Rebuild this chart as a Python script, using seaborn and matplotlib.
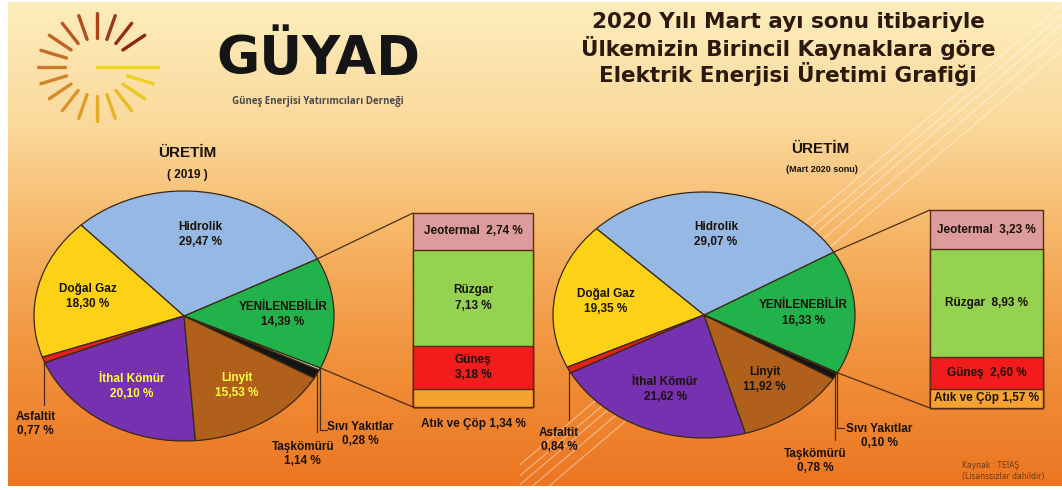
import numpy as np
import matplotlib
matplotlib.use("Agg")
import matplotlib.pyplot as plt
from matplotlib.colors import LinearSegmentedColormap
import seaborn as sns

# pie slices, counter-clockwise starting at the renewables wedge
sources = ["YENİLENEBİLİR", "Hidrolik", "Doğal Gaz", "Asfaltit",
           "İthal Kömür", "Linyit", "Taşkömürü", "Sıvı Yakıtlar"]
share_2019 = [14.39, 29.47, 18.30, 0.77, 20.10, 15.53, 1.14, 0.28]
share_2020 = [16.33, 29.07, 19.35, 0.84, 21.62, 11.92, 0.78, 0.10]

# break-down of the renewables wedge, top to bottom
renew_names = ["Jeotermal", "Rüzgar", "Güneş", "Atık ve Çöp"]
renew_2019 = [2.74, 7.13, 3.18, 1.34]
renew_2020 = [3.23, 8.93, 2.60, 1.57]

title_lines = ["2020 Yılı Mart ayı sonu itibariyle",
               "Ülkemizin Birincil Kaynaklara göre",
               "Elektrik Enerjisi Üretimi Grafiği"]

slice_colors = ["#22b24c", "#95b8e4", "#fcd116", "#e3201b",
                "#7631b0", "#b0601a", "#141414", "#cfe9cf"]
renew_colors = ["#dd9c9c", "#94d24f", "#f21c1c", "#f6a233"]

sns.set_theme(style="white")
plt.rcParams["font.family"] = ["DejaVu Sans"]
NARROW = ["Liberation Sans", "DejaVu Sans"]

W, H = 1062, 490
fig = plt.figure(figsize=(W / 100, H / 100), dpi=100)
fig.patch.set_facecolor("white")
bg = fig.add_axes([0, 0, 1, 1])
bg.set_xlim(0, W)
bg.set_ylim(H, 0)
bg.axis("off")

grad = LinearSegmentedColormap.from_list(
    "bg", ["#fdedbc", "#fbd99c", "#f6b363", "#f1903a", "#ec7622"])
bg.imshow(np.linspace(0, 1, 256)[:, None], cmap=grad, aspect="auto",
          extent=(8, W, 486, 3), origin="upper", zorder=0)
bg.set_xlim(0, W)
bg.set_ylim(H, 0)

# light streaks
for y0 in (4, 15, 24, 36, 50):
    bg.plot([W, 520], [y0, y0 + (W - 520) * 0.85], color="white", alpha=0.45, lw=0.8, zorder=1)

# logo
ray_cmap = LinearSegmentedColormap.from_list("rays", ["#8b2312", "#b4501f", "#cf7d2c", "#e3a626", "#efd11e"])
cx0, cy0 = 97, 67
angles = np.arange(36, 343, 18)
for k, a in enumerate(angles):
    t = np.deg2rad(a)
    bg.plot([cx0 + 32 * np.cos(t), cx0 + 59 * np.cos(t)],
            [cy0 - 29 * np.sin(t), cy0 - 54 * np.sin(t)],
            color=ray_cmap(k / (len(angles) - 1)), lw=2.4, solid_capstyle="round", zorder=2)
bg.plot([cx0, cx0 + 61], [cy0, cy0], color="#f0d818", lw=2.4, solid_capstyle="round", zorder=2)
bg.text(318, 59, "GÜYAD", ha="center", va="center", fontsize=38, weight="bold",
        color="#151515", family=["DejaVu Sans"], zorder=3)
bg.text(318, 101, "Güneş Enerjisi Yatırımcıları Derneği", ha="center", va="center",
        fontsize=7, weight="bold", color="#4a4a4a", family=["Open Sans", "DejaVu Sans"], zorder=3)

for i, line in enumerate(title_lines):
    bg.text(788, 22 + i * 26, line, ha="center", va="center", fontsize=15.5,
            weight="bold", color="#2b1a0c", zorder=3)


def pct(v, space=True):
    return f"{v:.2f}".replace(".", ",") + (" %" if space else "%")


def draw_pie(values, cx, cy, rx, ry, start, txt_colors, leaders):
    ax = fig.add_axes([(cx - rx) / W, 1 - (cy + ry) / H, 2 * rx / W, 2 * ry / H])
    wedges, _ = ax.pie(values, colors=slice_colors, startangle=start, counterclock=True,
                       radius=1, wedgeprops=dict(edgecolor="#3a2812", linewidth=0.9))
    ax.set_xlim(-1, 1)
    ax.set_ylim(-1, 1)
    ax.set_aspect("auto")
    ax.axis("off")
    for w in wedges:
        w.set_clip_on(False)

    def edge(theta, r=1.0):
        t = np.deg2rad(theta)
        return cx + rx * r * np.cos(t), cy - ry * r * np.sin(t)

    for i, w in enumerate(wedges):
        mid = np.deg2rad((w.theta1 + w.theta2) / 2)
        if i in leaders:
            px, py = edge((w.theta1 + w.theta2) / 2)
            y_end, dx, dy, hook = leaders[i]
            xs, ys = [px, px], [py, y_end]
            if hook:
                xs.append(px + 7)
                ys.append(y_end)
            bg.plot(xs, ys, color="#4a2e12", lw=0.9, zorder=2)
            bg.text(px + dx, y_end + dy, f"{sources[i]}\n{pct(values[i])}", ha="center", va="center",
                    fontsize=8.5, weight="bold", family=NARROW, color="#1a1108",
                    linespacing=1.25, zorder=3)
        else:
            ax.text(0.66 * np.cos(mid), 0.66 * np.sin(mid), f"{sources[i]}\n{pct(values[i])}",
                    ha="center", va="center", fontsize=8.5, weight="bold", family=NARROW,
                    color=txt_colors[i], linespacing=1.35)
    g = wedges[0]
    return edge(g.theta2), edge(g.theta1)


def draw_box(values, x0, y0, x1, y1, two_line, top_pt, bot_pt):
    bax = fig.add_axes([x0 / W, 1 - y1 / H, (x1 - x0) / W, (y1 - y0) / H])
    cum = np.cumsum(values[::-1])[::-1]
    total = cum[0]
    for i in range(len(values)):
        sns.barplot(x=["r"], y=[cum[i]], color=renew_colors[i], saturation=1, width=1,
                    errorbar=None, edgecolor="#5a2a10", linewidth=1.0, ax=bax)
    for p in bax.patches:
        p.set_clip_on(False)
    bax.set_xlim(-0.5, 0.5)
    bax.set_ylim(0, total)
    bax.axis("off")
    scale = (y1 - y0) / total
    for i, name in enumerate(renew_names):
        lo = cum[i + 1] if i + 1 < len(cum) else 0
        seg_px = (cum[i] - lo) * scale
        if seg_px < 22:
            if two_line:
                bg.text((x0 + x1) / 2, y1 + 17, f"{name} {pct(values[i])}", ha="center",
                        va="center", fontsize=8.5, weight="bold", family=NARROW,
                        color="#1a1108", zorder=3)
            else:
                bax.text(0, (cum[i] + lo) / 2, f"{name} {pct(values[i])}", ha="center",
                         va="center", fontsize=8.5, weight="bold", family=NARROW, color="#1a1108")
        else:
            label = f"{name}\n{pct(values[i])}" if (two_line and seg_px > 40) else f"{name}  {pct(values[i])}"
            bax.text(0, (cum[i] + lo) / 2, label, ha="center", va="center", fontsize=8.5,
                     weight="bold", family=NARROW, color="#1a1108", linespacing=1.35)
    bg.plot([top_pt[0], x0], [top_pt[1], y0], color="#4a2e12", lw=0.9, zorder=2)
    bg.plot([bot_pt[0], x0], [bot_pt[1], y1], color="#4a2e12", lw=0.9, zorder=2)


black = "#1a1108"
yellow = "#ffff3c"
left_txt = [black, black, black, black, yellow, yellow, black, black]
right_txt = [black] * 8

# leader layout: index -> (line end y, text dx, text dy, hook)
left_lead = {3: (405, -8, 19, False), 6: (432, -14, 22, False), 7: (430, 40, 4, True)}
right_lead = {3: (420, -10, 20, False), 6: (440, -20, 21, False), 7: (428, 42, 8, True)}

top_l, bot_l = draw_pie(share_2019, 184, 316, 150, 125, -24.6, left_txt, left_lead)
top_r, bot_r = draw_pie(share_2020, 704, 315, 151, 123, -28, right_txt, right_lead)

draw_box(renew_2019, 413, 213, 533, 407, True, top_l, bot_l)
draw_box(renew_2020, 930, 210, 1043, 408, False, top_r, bot_r)

bg.text(187, 153, "ÜRETİM", ha="center", va="center", fontsize=11, weight="bold",
        family=NARROW, color=black, zorder=3)
bg.text(187, 175, "( 2019 )", ha="center", va="center", fontsize=8.5, weight="bold",
        family=NARROW, color=black, zorder=3)
bg.text(820, 149, "ÜRETİM", ha="center", va="center", fontsize=11, weight="bold",
        family=NARROW, color=black, zorder=3)
bg.text(822, 169, "(Mart 2020 sonu)", ha="center", va="center", fontsize=6.5, weight="bold",
        family=NARROW, color=black, zorder=3)

bg.text(962, 465, "Kaynak : TEİAŞ", ha="left", va="center", fontsize=5.5, color="#6b3a14", zorder=3)
bg.text(962, 476, "(Lisanssızlar dahildir)", ha="left", va="center", fontsize=5.5, color="#6b3a14", zorder=3)

fig.savefig("out.png", dpi=100)
